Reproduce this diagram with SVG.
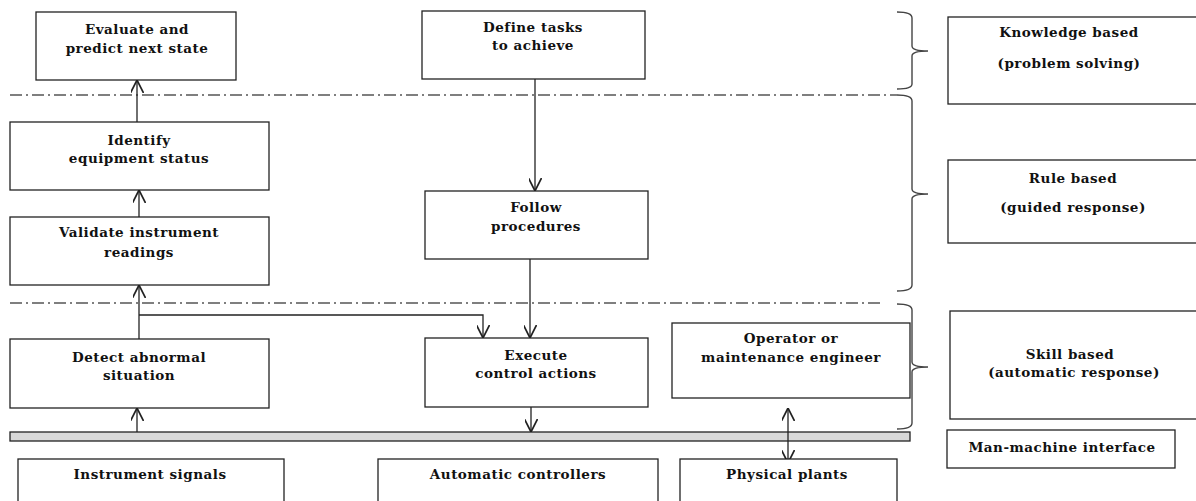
<svg xmlns="http://www.w3.org/2000/svg" width="1196" height="501" viewBox="0 0 1196 501">
<style>
.box{fill:#fff;stroke:#222;stroke-width:1.3}
.t{font-family:"DejaVu Serif","Liberation Serif",serif;font-weight:bold;font-size:13.5px;letter-spacing:0.5px;fill:#111;text-anchor:middle}
.ln{fill:none;stroke:#222;stroke-width:1.3}
.dd{fill:none;stroke:#555;stroke-width:1.5;stroke-dasharray:12 4 2 4}
.br{fill:none;stroke:#444;stroke-width:1.4}
</style>
<defs>
<marker id="ah" viewBox="0 0 10 10" refX="10" refY="5" markerWidth="13" markerHeight="13" markerUnits="userSpaceOnUse" orient="auto">
<path d="M0,0 L10,5 L0,10" fill="none" stroke="#222" stroke-width="1.3"/>
</marker>
</defs>
<rect width="1196" height="501" fill="#fff"/>

<g id="layers">
<path class="dd" d="M10,95 H897"/>
<path class="dd" d="M10,303 H880"/>
<path class="br" d="M897,12 Q912,12 912,18 L912,46 Q912,51 928,51 Q912,51 912,56 L912,84 Q912,89 897,89"/>
<path class="br" d="M897,95 Q912,95 912,101 L912,189 Q912,194 928,194 Q912,194 912,199 L912,285 Q912,291 897,291"/>
<path class="br" d="M897,304 Q912,304 912,310 L912,362 Q912,367 928,367 Q912,367 912,372 L912,423 Q912,429 897,429"/>
</g>

<g id="bar">
<rect x="10" y="432" width="900" height="9" fill="#d9d9d9" stroke="#222" stroke-width="1.3"/>
</g>

<g id="connectors">
<path class="ln" d="M137,122 V80" marker-end="url(#ah)"/>
<path class="ln" d="M139,217 V190" marker-end="url(#ah)"/>
<path class="ln" d="M139,339 V285" marker-end="url(#ah)"/>
<path class="ln" d="M139,315 H483 V338" marker-end="url(#ah)"/>
<path class="ln" d="M137,432 V408" marker-end="url(#ah)"/>
<path class="ln" d="M535,79 V191" marker-end="url(#ah)"/>
<path class="ln" d="M530,259 V338" marker-end="url(#ah)"/>
<path class="ln" d="M531,407 V432" marker-end="url(#ah)"/>
<path class="ln" d="M788,436 V408" marker-end="url(#ah)"/>
<path class="ln" d="M788,436 V463" marker-end="url(#ah)"/>
</g>

<g id="evaluate">
<rect class="box" x="36" y="12" width="200" height="68"/>
<text class="t" x="137" y="34">Evaluate and</text>
<text class="t" x="137" y="53">predict next state</text>
</g>
<g id="define">
<rect class="box" x="422" y="11" width="223" height="68"/>
<text class="t" x="533" y="32">Define tasks</text>
<text class="t" x="533" y="50">to achieve</text>
</g>
<g id="identify">
<rect class="box" x="10" y="122" width="259" height="68"/>
<text class="t" x="139" y="145">Identify</text>
<text class="t" x="139" y="163">equipment status</text>
</g>
<g id="validate">
<rect class="box" x="10" y="217" width="259" height="68"/>
<text class="t" x="139" y="237">Validate instrument</text>
<text class="t" x="139" y="257">readings</text>
</g>
<g id="follow">
<rect class="box" x="425" y="191" width="223" height="68"/>
<text class="t" x="536" y="212">Follow</text>
<text class="t" x="536" y="231">procedures</text>
</g>
<g id="detect">
<rect class="box" x="10" y="339" width="259" height="69"/>
<text class="t" x="139" y="362">Detect abnormal</text>
<text class="t" x="139" y="380">situation</text>
</g>
<g id="execute">
<rect class="box" x="425" y="338" width="223" height="69"/>
<text class="t" x="536" y="360">Execute</text>
<text class="t" x="536" y="378">control actions</text>
</g>
<g id="operator">
<rect class="box" x="672" y="323" width="238" height="75"/>
<text class="t" x="791" y="343">Operator or</text>
<text class="t" x="791" y="362">maintenance engineer</text>
</g>
<g id="instrument">
<rect class="box" x="18" y="459" width="266" height="45"/>
<text class="t" x="150" y="479">Instrument signals</text>
</g>
<g id="automatic">
<rect class="box" x="378" y="459" width="280" height="45"/>
<text class="t" x="518" y="479">Automatic controllers</text>
</g>
<g id="physical">
<rect class="box" x="680" y="459" width="217" height="45"/>
<text class="t" x="787" y="479">Physical plants</text>
</g>
<g id="knowledge">
<rect class="box" x="948" y="17" width="260" height="87"/>
<text class="t" x="1069" y="37">Knowledge based</text>
<text class="t" x="1069" y="68">(problem solving)</text>
</g>
<g id="rule">
<rect class="box" x="948" y="160" width="260" height="83"/>
<text class="t" x="1073" y="183">Rule based</text>
<text class="t" x="1073" y="212">(guided response)</text>
</g>
<g id="skill">
<rect class="box" x="950" y="311" width="260" height="108"/>
<text class="t" x="1070" y="359">Skill based</text>
<text class="t" x="1074" y="377">(automatic response)</text>
</g>
<g id="mmi">
<rect class="box" x="947" y="430" width="228" height="38"/>
<text class="t" x="1062" y="452">Man-machine interface</text>
</g>
</svg>
